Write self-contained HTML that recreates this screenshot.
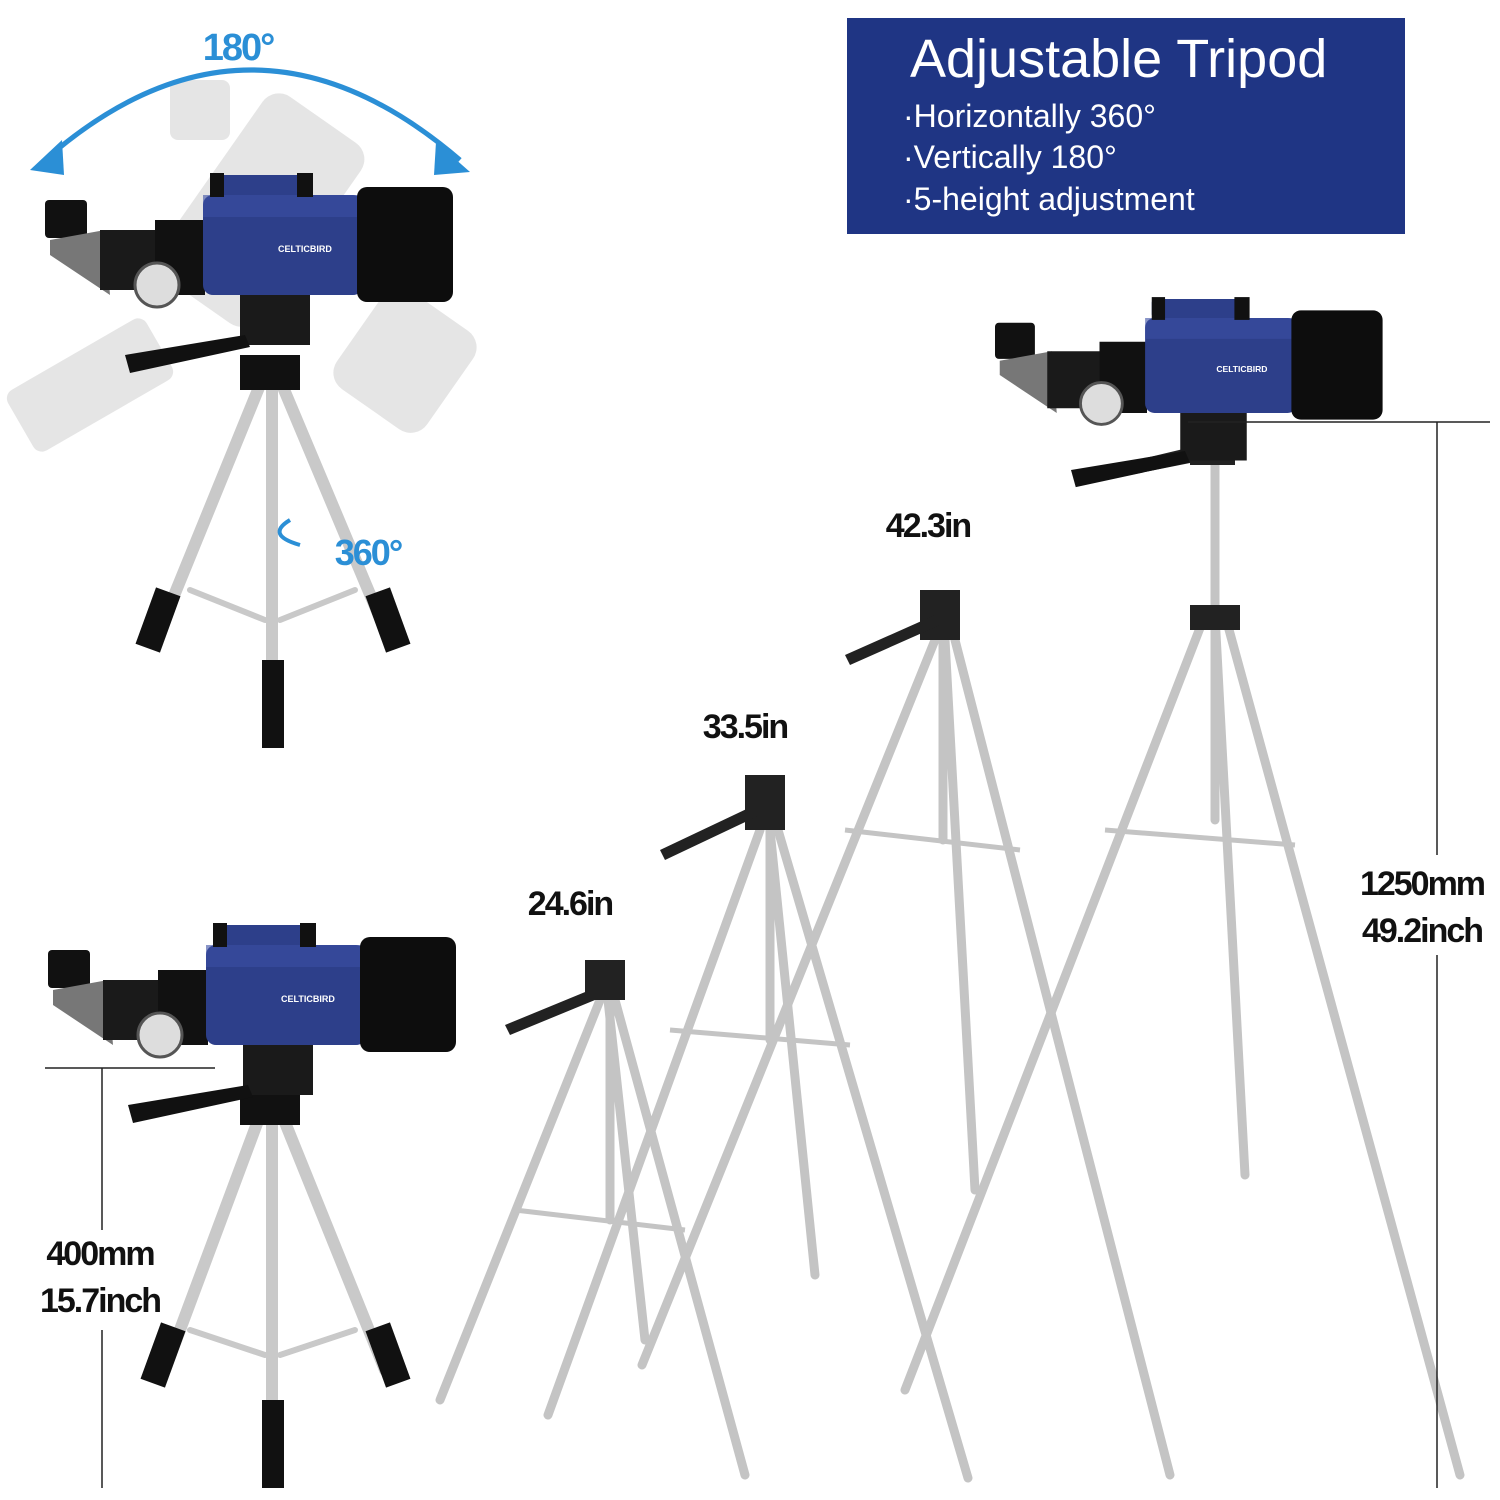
<!DOCTYPE html>
<html><head><meta charset="utf-8"><style>
html,body{margin:0;padding:0;background:#fff;}
svg{display:block}
text{font-family:"Liberation Sans",sans-serif;}
</style></head><body>
<svg width="1500" height="1500" viewBox="0 0 1500 1500" xmlns="http://www.w3.org/2000/svg">
<defs>
<g id="scope">
  <rect x="0" y="5" width="42" height="38" rx="4" fill="#111"/>
  <polygon points="5,45 60,35 65,100 5,60" fill="#777"/>
  <rect x="55" y="35" width="60" height="60" fill="#1a1a1a"/>
  <rect x="110" y="25" width="50" height="75" fill="#111"/>
  <circle cx="112" cy="90" r="22" fill="#ddd" stroke="#555" stroke-width="3"/>
  <rect x="158" y="0" width="160" height="100" rx="10" fill="#2d3f8a"/>
  <rect x="158" y="0" width="160" height="22" fill="#3a4fa3" opacity="0.6"/>
  <text x="233" y="57" font-size="9" fill="#fff" font-weight="bold">CELTICBIRD</text>
  <rect x="312" y="-8" width="96" height="115" rx="10" fill="#0d0d0d"/>
  <rect x="165" y="-20" width="100" height="20" rx="4" fill="#2d3f8a"/>
  <rect x="165" y="-22" width="14" height="24" fill="#111"/>
  <rect x="252" y="-22" width="16" height="24" fill="#111"/>
  <rect x="195" y="100" width="70" height="50" fill="#1a1a1a"/>
  <polygon points="80,160 200,140 205,152 85,178" fill="#111"/>
</g>
</defs>

<g opacity="0.25" fill="#999">
  <rect x="200" y="100" width="120" height="220" rx="20" transform="rotate(35 260 210)"/>
  <rect x="350" y="300" width="110" height="120" rx="20" transform="rotate(35 405 360)"/>
  <rect x="10" y="350" width="160" height="70" rx="10" transform="rotate(-30 90 385)"/>
  <rect x="170" y="80" width="60" height="60" rx="8"/>
</g>

<path d="M45,160 Q250,-20 460,160" fill="none" stroke="#2b8fd6" stroke-width="5"/>
<polygon points="30,170 62,140 64,175" fill="#2b8fd6"/>
<polygon points="470,172 436,142 434,175" fill="#2b8fd6"/>
<text x="238" y="60" font-size="38" font-weight="bold" fill="#2b8fd6" text-anchor="middle" letter-spacing="-2">180°</text>

<g stroke="#c9c9c9" stroke-width="12" stroke-linecap="round">
  <line x1="262" y1="380" x2="160" y2="630"/>
  <line x1="272" y1="380" x2="272" y2="740"/>
  <line x1="280" y1="380" x2="385" y2="630"/>
  <line x1="190" y1="590" x2="265" y2="620" stroke-width="6"/>
  <line x1="355" y1="590" x2="280" y2="620" stroke-width="6"/>
</g>
<g fill="#111">
  <rect x="145" y="590" width="26" height="60" transform="rotate(20 158 620)"/>
  <rect x="375" y="590" width="26" height="60" transform="rotate(-20 388 620)"/>
  <rect x="262" y="660" width="22" height="88"/>
  <rect x="240" y="355" width="60" height="35"/>
</g>
<path d="M290,520 Q265,535 300,545" fill="none" stroke="#2b8fd6" stroke-width="4"/>
<text x="368" y="565" font-size="36" font-weight="bold" fill="#2b8fd6" text-anchor="middle" letter-spacing="-2">360°</text>
<use href="#scope" x="45" y="195"/>

<rect x="847" y="18" width="558" height="216" fill="#1f3584"/>
<text x="910" y="77" font-size="54" fill="#fff">Adjustable Tripod</text>
<text x="903" y="127" font-size="32" fill="#fff">·Horizontally 360°</text>
<text x="903" y="168" font-size="32" fill="#fff">·Vertically 180°</text>
<text x="903" y="210" font-size="32" fill="#fff">·5-height adjustment</text>

<g stroke="#c9c9c9" stroke-width="12" stroke-linecap="round">
  <line x1="262" y1="1110" x2="165" y2="1370"/>
  <line x1="272" y1="1110" x2="272" y2="1470"/>
  <line x1="280" y1="1110" x2="385" y2="1370"/>
  <line x1="190" y1="1330" x2="265" y2="1355" stroke-width="6"/>
  <line x1="355" y1="1330" x2="280" y2="1355" stroke-width="6"/>
</g>
<g fill="#111">
  <rect x="150" y="1325" width="26" height="60" transform="rotate(20 163 1355)"/>
  <rect x="375" y="1325" width="26" height="60" transform="rotate(-20 388 1355)"/>
  <rect x="262" y="1400" width="22" height="88"/>
  <rect x="240" y="1090" width="60" height="35"/>
</g>
<use href="#scope" x="48" y="945"/>
<g stroke="#222" stroke-width="1.5">
  <line x1="45" y1="1068" x2="215" y2="1068"/>
  <line x1="102" y1="1068" x2="102" y2="1230"/>
  <line x1="102" y1="1330" x2="102" y2="1488"/>
</g>
<text x="100" y="1265" font-size="34" font-weight="bold" fill="#111" text-anchor="middle" letter-spacing="-2">400mm</text>
<text x="100" y="1312" font-size="34" font-weight="bold" fill="#111" text-anchor="middle" letter-spacing="-2">15.7inch</text>

<g stroke="#c4c4c4" stroke-width="9" stroke-linecap="round" fill="none">
  <line x1="600" y1="1000" x2="440" y2="1400"/>
  <line x1="608" y1="1000" x2="645" y2="1340"/>
  <line x1="615" y1="1000" x2="745" y2="1475"/>
  <line x1="610" y1="1000" x2="610" y2="1220"/>
  <line x1="760" y1="830" x2="548" y2="1415"/>
  <line x1="770" y1="830" x2="815" y2="1275"/>
  <line x1="778" y1="830" x2="968" y2="1478"/>
  <line x1="770" y1="830" x2="770" y2="1040"/>
  <line x1="935" y1="640" x2="642" y2="1365"/>
  <line x1="945" y1="640" x2="975" y2="1190"/>
  <line x1="955" y1="640" x2="1170" y2="1475"/>
  <line x1="943" y1="640" x2="943" y2="840"/>
  <line x1="1205" y1="615" x2="905" y2="1390"/>
  <line x1="1215" y1="615" x2="1245" y2="1175"/>
  <line x1="1225" y1="615" x2="1460" y2="1475"/>
  <line x1="1215" y1="460" x2="1215" y2="820"/>
</g>
<g stroke="#c4c4c4" stroke-width="5">
  <line x1="515" y1="1210" x2="685" y2="1230"/>
  <line x1="670" y1="1030" x2="850" y2="1045"/>
  <line x1="845" y1="830" x2="1020" y2="850"/>
  <line x1="1105" y1="830" x2="1295" y2="845"/>
</g>
<g fill="#222">
  <rect x="585" y="960" width="40" height="40"/>
  <polygon points="505,1025 590,990 595,1000 510,1035"/>
  <rect x="745" y="775" width="40" height="55"/>
  <polygon points="660,850 755,805 760,815 665,860"/>
  <rect x="920" y="590" width="40" height="50"/>
  <polygon points="845,655 935,615 940,625 850,665"/>
  <rect x="1190" y="410" width="45" height="55"/>
  <polygon points="1075,475 1200,445 1205,460 1080,485"/>
  <rect x="1190" y="605" width="50" height="25"/>
</g>
<use href="#scope" transform="translate(995,318) scale(0.95)"/>

<text x="570" y="915" font-size="34" font-weight="bold" fill="#111" text-anchor="middle" letter-spacing="-2">24.6in</text>
<text x="745" y="738" font-size="34" font-weight="bold" fill="#111" text-anchor="middle" letter-spacing="-2">33.5in</text>
<text x="928" y="537" font-size="34" font-weight="bold" fill="#111" text-anchor="middle" letter-spacing="-2">42.3in</text>

<g stroke="#222" stroke-width="1.5">
  <line x1="1188" y1="422" x2="1490" y2="422"/>
  <line x1="1437" y1="422" x2="1437" y2="855"/>
  <line x1="1437" y1="955" x2="1437" y2="1488"/>
</g>
<text x="1422" y="895" font-size="34" font-weight="bold" fill="#111" text-anchor="middle" letter-spacing="-2">1250mm</text>
<text x="1422" y="942" font-size="34" font-weight="bold" fill="#111" text-anchor="middle" letter-spacing="-2">49.2inch</text>
</svg>
</body></html>
